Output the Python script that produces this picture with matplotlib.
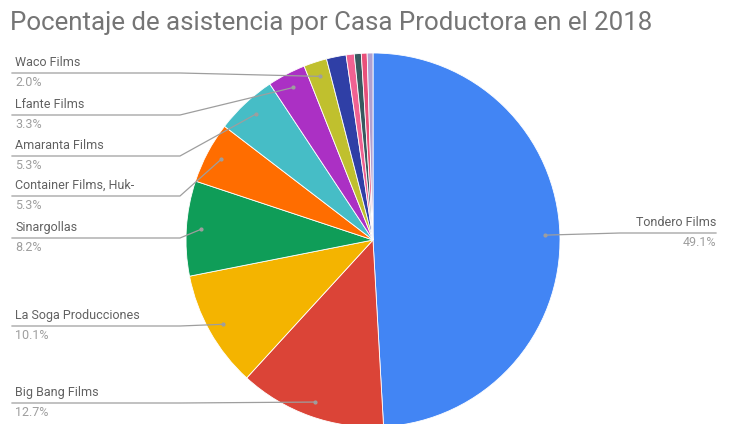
import numpy as np
import matplotlib.pyplot as plt

plt.rcParams['font.family'] = ['Roboto', 'DejaVu Sans']

# Data (clockwise from 12 o'clock)
casas = ["Tondero Films", "Big Bang Films", "La Soga Producciones", "Sinargollas",
         "Container Films, Huk-", "Amaranta Films", "Lfante Films", "Waco Films",
         "Otra 1", "Otra 2", "Otra 3", "Otra 4", "Otra 5"]
porcentajes = [49.1, 12.7, 10.1, 8.2, 5.3, 5.3, 3.3, 2.0, 1.7, 0.7, 0.6, 0.5, 0.5]
colores = ["#4285F4", "#DB4437", "#F4B400", "#0F9D58", "#FF6D00", "#46BDC6",
           "#AB30C4", "#C0C02E", "#2F3FA6", "#F06292", "#37595F", "#E8507A", "#B0A0D0"]
mostrar = [True] * 8 + [False] * 5

# label line heights (pixels from top of image)
label_y = [233, 403, 326, 238, 196, 156, 115, 73]

W, H = 730, 424
fig = plt.figure(figsize=(W / 100, H / 100), dpi=100)
ax = fig.add_axes([0, 0, 1, 1])

cx, cy, r = 373, H - 240, 187
wedges, _ = ax.pie(porcentajes, colors=colores, startangle=90, counterclock=False,
                   center=(cx, cy), radius=r, frame=True,
                   wedgeprops=dict(linewidth=0.6, edgecolor='white'))
ax.set_xlim(0, W)
ax.set_ylim(0, H)
ax.set_aspect('equal')
ax.axis('off')

name_col = "#616161"
pct_col = "#9E9E9E"
line_col = "#9E9E9E"

for i, w in enumerate(wedges):
    if not mostrar[i]:
        continue
    ang = np.deg2rad((w.theta1 + w.theta2) / 2)
    ax_x = cx + 0.92 * r * np.cos(ang)
    ax_y = cy + 0.92 * r * np.sin(ang)
    ly = H - label_y[i]
    if np.cos(ang) >= 0:
        x0, x1 = 716, 620
        ax.plot([x0, x1, ax_x], [ly, ly, ax_y], color=line_col, lw=0.9, zorder=3)
        ax.plot(ax_x, ax_y, 'o', ms=2, color=line_col, zorder=4)
        ax.text(x0, ly + 4, casas[i], ha='right', va='bottom', fontsize=9, color=name_col)
        ax.text(x0, ly - 3, f"{porcentajes[i]:.1f}%", ha='right', va='top', fontsize=9, color=pct_col)
    else:
        x0, x1 = 12, 180
        ax.plot([x0, x1, ax_x], [ly, ly, ax_y], color=line_col, lw=0.9, zorder=3)
        ax.plot(ax_x, ax_y, 'o', ms=2, color=line_col, zorder=4)
        ax.text(x0 + 3, ly + 4, casas[i], ha='left', va='bottom', fontsize=9, color=name_col)
        ax.text(x0 + 3, ly - 3, f"{porcentajes[i]:.1f}%", ha='left', va='top', fontsize=9, color=pct_col)

fig.text(10 / W, 1 - 23 / H, "Pocentaje de asistencia por Casa Productora en el 2018",
         ha='left', va='center', fontsize=18.6, color="#757575")

fig.savefig("out.png", dpi=100)
